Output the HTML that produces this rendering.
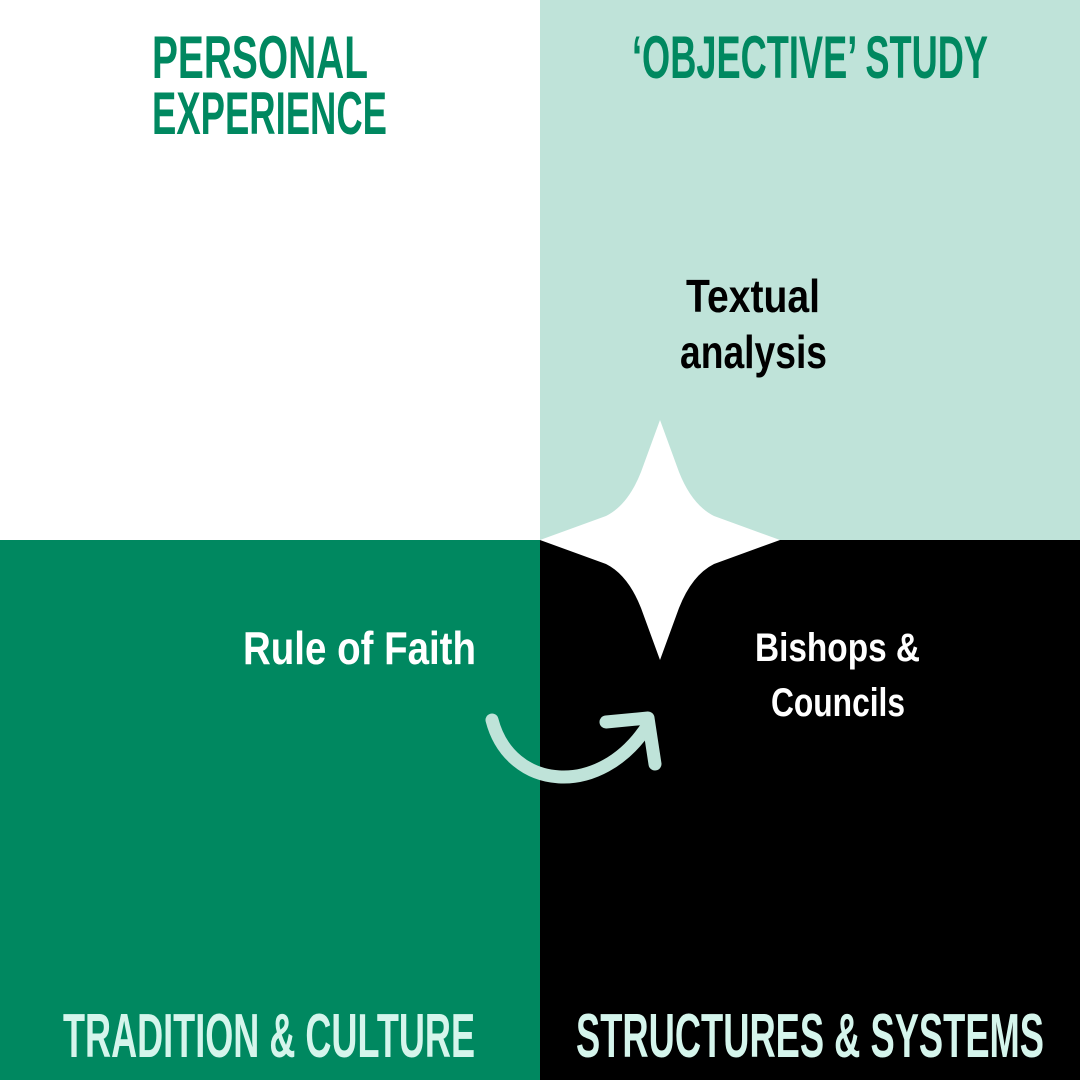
<!DOCTYPE html>
<html><head><style>html,body{margin:0;padding:0}svg{display:block}</style></head>
<body>
<svg width="1080" height="1080" viewBox="0 0 1080 1080" xmlns="http://www.w3.org/2000/svg">
<rect x="0" y="0" width="540" height="540" fill="#ffffff"/>
<rect x="540" y="0" width="540" height="540" fill="#bfe3d9"/>
<rect x="0" y="540" width="540" height="540" fill="#008860"/>
<rect x="540" y="540" width="540" height="540" fill="#000000"/>
<path d="M660 420 L679 472 Q692 505 714 516 L780 540 L714 564 Q692 575 679 608 L660 660 L641 608 Q628 575 606 564 L540 540 L606 516 Q628 505 641 472 Z" fill="#ffffff"/>
<path d="M492 720 C510 790 600 800 648 725" fill="none" stroke="#bfe3d9" stroke-width="13" stroke-linecap="round"/>
<path d="M606 722 L648 718 L655 764" fill="none" stroke="#bfe3d9" stroke-width="13" stroke-linecap="round" stroke-linejoin="round"/>
<g font-family="Liberation Sans Narrow, Liberation Sans, sans-serif" font-weight="bold">
<text x="152" y="78" font-size="60" fill="#008860" textLength="216" lengthAdjust="spacingAndGlyphs">PERSONAL</text>
<text x="152" y="134" font-size="60" fill="#008860" textLength="235" lengthAdjust="spacingAndGlyphs">EXPERIENCE</text>
<text x="632" y="78" font-size="60" fill="#008860" textLength="356" lengthAdjust="spacingAndGlyphs">‘OBJECTIVE’ STUDY</text>
<text x="63" y="1057" font-size="62" fill="#d5f5ec" textLength="412" lengthAdjust="spacingAndGlyphs">TRADITION &amp; CULTURE</text>
<text x="576" y="1057" font-size="62" fill="#d5f5ec" textLength="468" lengthAdjust="spacingAndGlyphs">STRUCTURES &amp; SYSTEMS</text>
<text x="686" y="312" font-size="46" fill="#000" textLength="134" lengthAdjust="spacingAndGlyphs">Textual</text>
<text x="680" y="368" font-size="46" fill="#000" textLength="147" lengthAdjust="spacingAndGlyphs">analysis</text>
<text x="243" y="664" font-size="46" fill="#fff" textLength="233" lengthAdjust="spacingAndGlyphs">Rule of Faith</text>
<text x="755" y="661" font-size="40" fill="#fff" textLength="165" lengthAdjust="spacingAndGlyphs">Bishops &amp;</text>
<text x="771" y="716" font-size="40" fill="#fff" textLength="134" lengthAdjust="spacingAndGlyphs">Councils</text>
</g>
</svg>
</body></html>
